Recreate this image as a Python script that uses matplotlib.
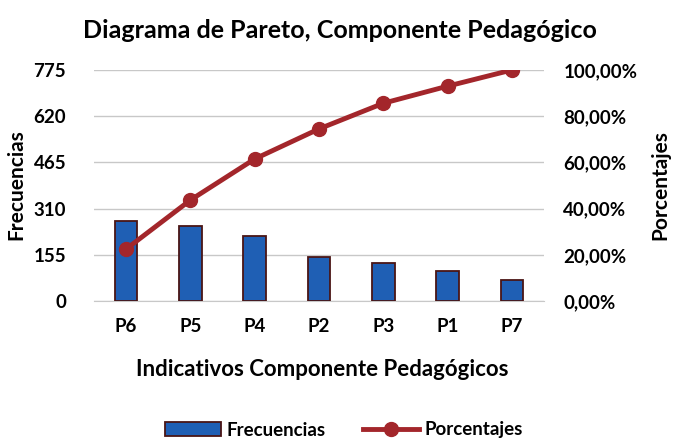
import matplotlib.pyplot as plt
from matplotlib.ticker import FuncFormatter

# Data
categorias = ['P6', 'P5', 'P4', 'P2', 'P3', 'P1', 'P7']
frecuencias = [270, 250, 217, 146, 129, 99, 71]
porcentajes = [22.5, 43.7, 61.5, 74.5, 85.6, 93.0, 100.0]
ticks_frec = [0, 155, 310, 465, 620, 775]
ticks_pct = [0, 20, 40, 60, 80, 100]

plt.rcParams['font.family'] = ['Lato', 'DejaVu Sans']
plt.rcParams['font.weight'] = 'bold'

fig = plt.figure(figsize=(6.73, 4.42), dpi=100)
ax = fig.add_axes([94 / 673, 1 - 301 / 442, 450 / 673, 231 / 442])
ax2 = ax.twinx()

x = range(len(categorias))
ax.bar(x, frecuencias, width=0.35, color='#1f5fb4', edgecolor='#4a1515',
       linewidth=1.3, zorder=3, label='Frecuencias')
ax2.plot(x, porcentajes, color='#a3262b', linewidth=3.5, marker='o',
         markersize=10, zorder=4, label='Porcentajes')

ax.set_ylim(0, 775)
ax.set_yticks(ticks_frec)
ax2.set_ylim(0, 100)
ax2.set_yticks(ticks_pct)
ax2.yaxis.set_major_formatter(FuncFormatter(lambda v, p: f'{v:.2f}'.replace('.', ',') + '%'))
ax.set_xlim(-0.5, len(categorias) - 0.5)
ax.set_xticks(list(x))
ax.set_xticklabels(categorias)

ax.grid(axis='y', color='#c8c8c8', linewidth=1, zorder=0)
for a in (ax, ax2):
    for s in a.spines.values():
        s.set_visible(False)
    a.tick_params(length=0, labelsize=13.5)
ax.spines['bottom'].set_visible(True)
ax.spines['bottom'].set_color('#c8c8c8')
ax.tick_params(axis='y', pad=20)
ax.tick_params(axis='x', pad=12)
ax2.tick_params(axis='y', pad=14)

fig.text(340 / 673, 1 - 30 / 442, 'Diagrama de Pareto, Componente Pedagógico', ha='center',
         va='center', fontsize=18, fontweight='bold')
fig.text(16 / 673, 1 - 185 / 442, 'Frecuencias', rotation=90, ha='center',
         va='center', fontsize=15, fontweight='bold')
fig.text(660 / 673, 1 - 185 / 442, 'Porcentajes', rotation=90, ha='center',
         va='center', fontsize=15, fontweight='bold')
fig.text(322 / 673, 1 - 369 / 442, 'Indicativos Componente Pedagógicos',
         ha='center', va='center', fontsize=16, fontweight='bold')

h1, l1 = ax.get_legend_handles_labels()
h2, l2 = ax2.get_legend_handles_labels()
fig.legend(h1 + h2, l1 + l2, loc='center', bbox_to_anchor=(344 / 673, 1 - 430 / 442),
           ncol=2, frameon=False, fontsize=13.5, handlelength=3.0, handletextpad=0.3,
           columnspacing=2.0, borderaxespad=0, borderpad=0)

fig.savefig('out.png', dpi=100)
